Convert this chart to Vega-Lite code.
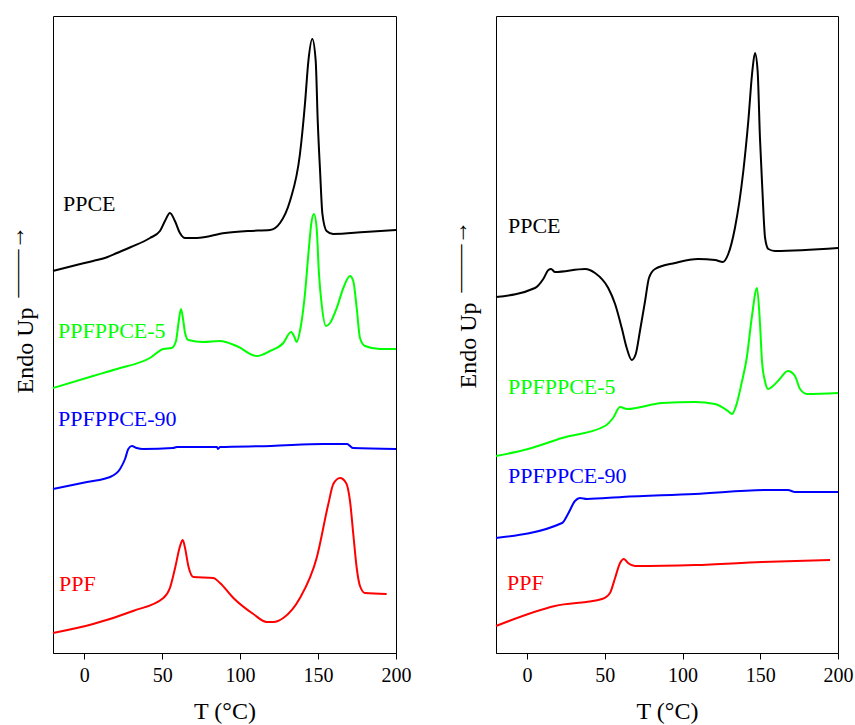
{
  "$schema": "https://vega.github.io/schema/vega-lite/v6.json",
  "padding": {"left": 3, "top": 15, "right": 0, "bottom": 2},
  "background": "white",
  "datasets": {
    "left": [
      {"sample":"PPCE","T":-20,"h":382},{"sample":"PPCE","T":-5,"h":388},{"sample":"PPCE","T":5.7,"h":392},{"sample":"PPCE","T":15,"h":396},{"sample":"PPCE","T":21,"h":400},{"sample":"PPCE","T":30,"h":406},{"sample":"PPCE","T":42.2,"h":415},{"sample":"PPCE","T":48.6,"h":422},{"sample":"PPCE","T":51.8,"h":432},{"sample":"PPCE","T":55,"h":440},{"sample":"PPCE","T":58.2,"h":432},{"sample":"PPCE","T":61.4,"h":420},{"sample":"PPCE","T":64.7,"h":415},{"sample":"PPCE","T":72.2,"h":415},{"sample":"PPCE","T":90.3,"h":420},{"sample":"PPCE","T":105,"h":422},{"sample":"PPCE","T":119.2,"h":423},{"sample":"PPCE","T":125.6,"h":430},{"sample":"PPCE","T":132,"h":452},{"sample":"PPCE","T":138.4,"h":499},{"sample":"PPCE","T":141.6,"h":549},{"sample":"PPCE","T":143.8,"h":592},{"sample":"PPCE","T":146.3,"h":614},{"sample":"PPCE","T":148.5,"h":592},{"sample":"PPCE","T":149.8,"h":532},{"sample":"PPCE","T":151.3,"h":482},{"sample":"PPCE","T":152.8,"h":439},{"sample":"PPCE","T":155.5,"h":422},{"sample":"PPCE","T":159.6,"h":419},{"sample":"PPCE","T":180,"h":421},{"sample":"PPCE","T":200,"h":423},
      {"sample":"PPFPPCE-5","T":-20,"h":265},{"sample":"PPFPPCE-5","T":5.7,"h":277},{"sample":"PPFPPCE-5","T":21,"h":284},{"sample":"PPFPPCE-5","T":42.2,"h":295},{"sample":"PPFPPCE-5","T":50.8,"h":304},{"sample":"PPFPPCE-5","T":56.1,"h":305},{"sample":"PPFPPCE-5","T":58.9,"h":312},{"sample":"PPFPPCE-5","T":60.4,"h":329},{"sample":"PPFPPCE-5","T":62.1,"h":344},{"sample":"PPFPPCE-5","T":63.6,"h":332},{"sample":"PPFPPCE-5","T":64.7,"h":320},{"sample":"PPFPPCE-5","T":66.8,"h":313},{"sample":"PPFPPCE-5","T":76.4,"h":311},{"sample":"PPFPPCE-5","T":87.1,"h":312},{"sample":"PPFPPCE-5","T":97.8,"h":307},{"sample":"PPFPPCE-5","T":110.7,"h":297},{"sample":"PPFPPCE-5","T":119.2,"h":302},{"sample":"PPFPPCE-5","T":127.7,"h":310},{"sample":"PPFPPCE-5","T":132.7,"h":321},{"sample":"PPFPPCE-5","T":134.6,"h":317},{"sample":"PPFPPCE-5","T":136.3,"h":311},{"sample":"PPFPPCE-5","T":138.4,"h":322},{"sample":"PPFPPCE-5","T":139.5,"h":332},{"sample":"PPFPPCE-5","T":141.6,"h":359},{"sample":"PPFPPCE-5","T":143.8,"h":399},{"sample":"PPFPPCE-5","T":145.9,"h":432},{"sample":"PPFPPCE-5","T":147.4,"h":439},{"sample":"PPFPPCE-5","T":149.1,"h":425},{"sample":"PPFPPCE-5","T":150.6,"h":379},{"sample":"PPFPPCE-5","T":152.3,"h":349},{"sample":"PPFPPCE-5","T":155.1,"h":327},{"sample":"PPFPPCE-5","T":157.7,"h":330},{"sample":"PPFPPCE-5","T":162,"h":345},{"sample":"PPFPPCE-5","T":166.2,"h":365},{"sample":"PPFPPCE-5","T":170.5,"h":377},{"sample":"PPFPPCE-5","T":172.6,"h":372},{"sample":"PPFPPCE-5","T":174.8,"h":345},{"sample":"PPFPPCE-5","T":176.9,"h":315},{"sample":"PPFPPCE-5","T":180.1,"h":307},{"sample":"PPFPPCE-5","T":189.7,"h":304},{"sample":"PPFPPCE-5","T":200,"h":304},
      {"sample":"PPFPPCE-90","T":-20,"h":164},{"sample":"PPFPPCE-90","T":1.8,"h":171},{"sample":"PPFPPCE-90","T":16.6,"h":176},{"sample":"PPFPPCE-90","T":23,"h":184},{"sample":"PPFPPCE-90","T":26.2,"h":194},{"sample":"PPFPPCE-90","T":28.3,"h":204},{"sample":"PPFPPCE-90","T":30.5,"h":207},{"sample":"PPFPPCE-90","T":33.7,"h":205},{"sample":"PPFPPCE-90","T":37.7,"h":204},{"sample":"PPFPPCE-90","T":57,"h":205},{"sample":"PPFPPCE-90","T":59.5,"h":206},{"sample":"PPFPPCE-90","T":85.2,"h":206},{"sample":"PPFPPCE-90","T":85.8,"h":204},{"sample":"PPFPPCE-90","T":87.1,"h":206},{"sample":"PPFPPCE-90","T":120,"h":207},{"sample":"PPFPPCE-90","T":153.2,"h":209},{"sample":"PPFPPCE-90","T":168.6,"h":209},{"sample":"PPFPPCE-90","T":172.4,"h":205},{"sample":"PPFPPCE-90","T":200,"h":204},
      {"sample":"PPF","T":-20,"h":20},{"sample":"PPF","T":5.7,"h":29},{"sample":"PPF","T":31.3,"h":42},{"sample":"PPF","T":50.8,"h":55},{"sample":"PPF","T":55,"h":65},{"sample":"PPF","T":58.3,"h":85},{"sample":"PPF","T":61.5,"h":107},{"sample":"PPF","T":63.2,"h":113},{"sample":"PPF","T":64.7,"h":105},{"sample":"PPF","T":66.8,"h":87},{"sample":"PPF","T":70,"h":76},{"sample":"PPF","T":82.8,"h":75},{"sample":"PPF","T":87.1,"h":70},{"sample":"PPF","T":95.7,"h":55},{"sample":"PPF","T":108.5,"h":39},{"sample":"PPF","T":117.1,"h":31},{"sample":"PPF","T":121.3,"h":31},{"sample":"PPF","T":127.7,"h":35},{"sample":"PPF","T":138.4,"h":55},{"sample":"PPF","T":149.1,"h":95},{"sample":"PPF","T":156.6,"h":149},{"sample":"PPF","T":159.8,"h":169},{"sample":"PPF","T":164.1,"h":175},{"sample":"PPF","T":168,"h":170},{"sample":"PPF","T":170.5,"h":152},{"sample":"PPF","T":172.6,"h":119},{"sample":"PPF","T":174.8,"h":85},{"sample":"PPF","T":176.9,"h":67},{"sample":"PPF","T":180.1,"h":60},{"sample":"PPF","T":194,"h":59}
    ],
    "right": [
      {"sample":"PPCE","T":-20,"h":356},{"sample":"PPCE","T":5.1,"h":365},{"sample":"PPCE","T":10.4,"h":374},{"sample":"PPCE","T":13.7,"h":383},{"sample":"PPCE","T":15.4,"h":384},{"sample":"PPCE","T":18,"h":381},{"sample":"PPCE","T":37.3,"h":384},{"sample":"PPCE","T":43.7,"h":380},{"sample":"PPCE","T":52.2,"h":365},{"sample":"PPCE","T":56.6,"h":349},{"sample":"PPCE","T":60.9,"h":325},{"sample":"PPCE","T":64.1,"h":305},{"sample":"PPCE","T":67.3,"h":293},{"sample":"PPCE","T":69.9,"h":299},{"sample":"PPCE","T":72.6,"h":322},{"sample":"PPCE","T":75.9,"h":352},{"sample":"PPCE","T":78.4,"h":375},{"sample":"PPCE","T":82.3,"h":384},{"sample":"PPCE","T":95.2,"h":390},{"sample":"PPCE","T":109.9,"h":394},{"sample":"PPCE","T":120.9,"h":393},{"sample":"PPCE","T":126,"h":391},{"sample":"PPCE","T":129.4,"h":399},{"sample":"PPCE","T":133.7,"h":425},{"sample":"PPCE","T":139.1,"h":482},{"sample":"PPCE","T":142.3,"h":532},{"sample":"PPCE","T":144.9,"h":582},{"sample":"PPCE","T":146.6,"h":600},{"sample":"PPCE","T":148.3,"h":582},{"sample":"PPCE","T":149.8,"h":515},{"sample":"PPCE","T":151.3,"h":465},{"sample":"PPCE","T":153.1,"h":415},{"sample":"PPCE","T":155.2,"h":404},{"sample":"PPCE","T":159.5,"h":402},{"sample":"PPCE","T":200,"h":405},
      {"sample":"PPFPPCE-5","T":-20,"h":197},{"sample":"PPFPPCE-5","T":0.6,"h":204},{"sample":"PPFPPCE-5","T":22.5,"h":215},{"sample":"PPFPPCE-5","T":50.1,"h":227},{"sample":"PPFPPCE-5","T":55.3,"h":235},{"sample":"PPFPPCE-5","T":59.8,"h":246},{"sample":"PPFPPCE-5","T":64.3,"h":244},{"sample":"PPFPPCE-5","T":86.8,"h":250},{"sample":"PPFPPCE-5","T":108,"h":251},{"sample":"PPFPPCE-5","T":120.9,"h":249},{"sample":"PPFPPCE-5","T":129.2,"h":242},{"sample":"PPFPPCE-5","T":131.8,"h":239},{"sample":"PPFPPCE-5","T":134.8,"h":249},{"sample":"PPFPPCE-5","T":138,"h":270},{"sample":"PPFPPCE-5","T":141.3,"h":295},{"sample":"PPFPPCE-5","T":144.5,"h":335},{"sample":"PPFPPCE-5","T":147.9,"h":365},{"sample":"PPFPPCE-5","T":149.8,"h":330},{"sample":"PPFPPCE-5","T":151.1,"h":292},{"sample":"PPFPPCE-5","T":153,"h":272},{"sample":"PPFPPCE-5","T":155,"h":264},{"sample":"PPFPPCE-5","T":161.4,"h":272},{"sample":"PPFPPCE-5","T":167.8,"h":282},{"sample":"PPFPPCE-5","T":172.3,"h":277},{"sample":"PPFPPCE-5","T":175.6,"h":264},{"sample":"PPFPPCE-5","T":180.1,"h":259},{"sample":"PPFPPCE-5","T":200,"h":260},
      {"sample":"PPFPPCE-90","T":-20,"h":115},{"sample":"PPFPPCE-90","T":22.5,"h":130},{"sample":"PPFPPCE-90","T":26.3,"h":139},{"sample":"PPFPPCE-90","T":30.8,"h":152},{"sample":"PPFPPCE-90","T":34,"h":155},{"sample":"PPFPPCE-90","T":38.5,"h":154},{"sample":"PPFPPCE-90","T":61.1,"h":156},{"sample":"PPFPPCE-90","T":108,"h":159},{"sample":"PPFPPCE-90","T":155,"h":163},{"sample":"PPFPPCE-90","T":167.8,"h":163},{"sample":"PPFPPCE-90","T":172.3,"h":161},{"sample":"PPFPPCE-90","T":200,"h":161},
      {"sample":"PPF","T":-20,"h":27},{"sample":"PPF","T":17.9,"h":47},{"sample":"PPF","T":48.2,"h":54},{"sample":"PPF","T":53.3,"h":60},{"sample":"PPF","T":56.6,"h":75},{"sample":"PPF","T":59.8,"h":90},{"sample":"PPF","T":62.3,"h":94},{"sample":"PPF","T":64.9,"h":90},{"sample":"PPF","T":69.4,"h":87},{"sample":"PPF","T":108,"h":88},{"sample":"PPF","T":151.1,"h":91},{"sample":"PPF","T":194.9,"h":93}
    ],
    "leftLabels": [
      {"sample":"PPCE","T":-13.6,"h":442},{"sample":"PPFPPCE-5","T":-16.8,"h":315},{"sample":"PPFPPCE-90","T":-16.8,"h":227},{"sample":"PPF","T":-16.2,"h":62}
    ],
    "rightLabels": [
      {"sample":"PPCE","T":-12.3,"h":420},{"sample":"PPFPPCE-5","T":-12.3,"h":259},{"sample":"PPFPPCE-90","T":-12.3,"h":170},{"sample":"PPF","T":-12.9,"h":63}
    ]
  },
  "spacing": 34,
  "hconcat": [
    {
      "width": 343,
      "height": 637,
      "layer": [
        {
          "data": {"name": "left"},
          "mark": {"type": "line", "interpolate": "monotone", "strokeWidth": 2},
          "encoding": {
            "x": {"field": "T", "type": "quantitative", "scale": {"domain": [-20, 200], "nice": false, "zero": false}, "axis": {"title": "T (°C)", "values": [0, 50, 100, 150, 200]}},
            "y": {"field": "h", "type": "quantitative", "scale": {"domain": [0, 637], "nice": false, "zero": false}, "axis": {"title": ["\u200b\u00a0\u00a0\u00a0\u00a0\u00a0\u00a0\u00a0\u00a0\u00a0\u00a0\u00a0\u00a0\u00a0\u00a0\u00a0\u00a0——→", "Endo Up"], "titleY": 377, "titleAlign": "left", "titleLineHeight": 9, "ticks": false, "labels": false, "domain": false}},
            "color": {"field": "sample", "type": "nominal", "scale": {"domain": ["PPCE", "PPFPPCE-5", "PPFPPCE-90", "PPF"], "range": ["#000000", "#00ff00", "#0000ff", "#ff0000"]}, "legend": null}
          }
        },
        {
          "data": {"name": "leftLabels"},
          "mark": {"type": "text", "align": "left", "baseline": "alphabetic", "font": "Liberation Serif", "fontSize": 22},
          "encoding": {
            "x": {"field": "T", "type": "quantitative"},
            "y": {"field": "h", "type": "quantitative"},
            "text": {"field": "sample"},
            "color": {"field": "sample", "type": "nominal", "legend": null}
          }
        }
      ]
    },
    {
      "width": 342,
      "height": 637,
      "layer": [
        {
          "data": {"name": "right"},
          "mark": {"type": "line", "interpolate": "monotone", "strokeWidth": 2},
          "encoding": {
            "x": {"field": "T", "type": "quantitative", "scale": {"domain": [-20, 200], "nice": false, "zero": false}, "axis": {"title": "T (°C)", "values": [0, 50, 100, 150, 200]}},
            "y": {"field": "h", "type": "quantitative", "scale": {"domain": [0, 637], "nice": false, "zero": false}, "axis": {"title": ["\u200b\u00a0\u00a0\u00a0\u00a0\u00a0\u00a0\u00a0\u00a0\u00a0\u00a0\u00a0\u00a0\u00a0\u00a0\u00a0\u00a0——→", "Endo Up"], "titleY": 372, "titleAlign": "left", "titleLineHeight": 9, "ticks": false, "labels": false, "domain": false}},
            "color": {"field": "sample", "type": "nominal", "legend": null}
          }
        },
        {
          "data": {"name": "rightLabels"},
          "mark": {"type": "text", "align": "left", "baseline": "alphabetic", "font": "Liberation Serif", "fontSize": 22},
          "encoding": {
            "x": {"field": "T", "type": "quantitative"},
            "y": {"field": "h", "type": "quantitative"},
            "text": {"field": "sample"},
            "color": {"field": "sample", "type": "nominal", "legend": null}
          }
        }
      ]
    }
  ],
  "config": {
    "view": {"stroke": "#000000", "strokeWidth": 1},
    "font": "Liberation Serif",
    "axis": {
      "grid": false,
      "labelFont": "Liberation Serif",
      "titleFont": "Liberation Serif",
      "labelColor": "#000000",
      "titleColor": "#000000",
      "titleFontWeight": "normal",
      "domainColor": "#000000",
      "tickColor": "#000000",
      "labelFontSize": 20,
      "titleFontSize": 24
    },
    "axisX": {"tickSize": 6, "labelPadding": 6, "titlePadding": 14, "labelFlush": false, "labelOverlap": false},
    "axisY": {"titlePadding": 16}
  }
}
